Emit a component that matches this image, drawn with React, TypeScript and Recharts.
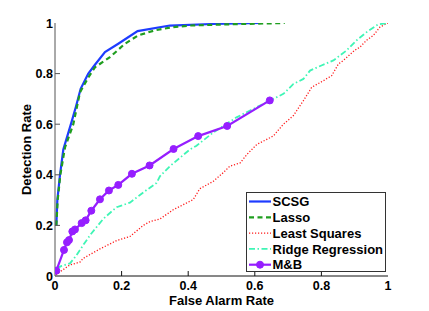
import React from 'react';
import { LineChart, Line, XAxis, YAxis, Legend } from 'recharts';

const FONT = '"Liberation Sans", Arial, Helvetica, sans-serif';

const axisTicks = [0, 0.2, 0.4, 0.6, 0.8, 1];

const scsgFar = [0.004, 0.007, 0.015, 0.025, 0.05, 0.063, 0.077, 0.1, 0.12, 0.15, 0.19, 0.248, 0.345, 0.475, 0.62];
const scsgDet = [0.2, 0.3, 0.4, 0.5, 0.61, 0.67, 0.74, 0.8, 0.835, 0.885, 0.918, 0.968, 0.99, 0.996, 1.0];

const lassoFar = [0.004, 0.008, 0.016, 0.03, 0.055, 0.075, 0.1, 0.12, 0.165, 0.21, 0.25, 0.3, 0.345, 0.405, 0.525, 0.69];
const lassoDet = [0.2, 0.3, 0.4, 0.508, 0.6, 0.726, 0.785, 0.825, 0.865, 0.918, 0.951, 0.971, 0.982, 0.99, 0.995, 1.0];

const lsFar = [0.003, 0.045, 0.075, 0.085, 0.135, 0.185, 0.225, 0.265, 0.285, 0.315, 0.355, 0.375, 0.415, 0.435, 0.475, 0.505, 0.525, 0.556, 0.576, 0.606, 0.636, 0.656, 0.686, 0.716, 0.746, 0.771, 0.806, 0.831, 0.851, 0.866, 0.9, 0.916, 0.936, 0.956, 0.976, 1];
const lsDet = [0.005, 0.044, 0.055, 0.07, 0.107, 0.14, 0.156, 0.2, 0.215, 0.225, 0.262, 0.275, 0.302, 0.345, 0.374, 0.408, 0.434, 0.447, 0.48, 0.52, 0.54, 0.554, 0.6, 0.634, 0.693, 0.746, 0.772, 0.792, 0.838, 0.852, 0.892, 0.905, 0.932, 0.951, 0.984, 1];

const ridgeFar = [0.005, 0.02, 0.045, 0.065, 0.085, 0.108, 0.145, 0.185, 0.225, 0.255, 0.27, 0.305, 0.315, 0.345, 0.405, 0.425, 0.475, 0.545, 0.625, 0.645, 0.686, 0.716, 0.746, 0.766, 0.8, 0.836, 0.876, 0.906, 0.936, 0.971, 1];
const ridgeDet = [0.03, 0.04, 0.05, 0.083, 0.123, 0.166, 0.226, 0.272, 0.29, 0.32, 0.335, 0.368, 0.394, 0.434, 0.5, 0.515, 0.567, 0.627, 0.68, 0.693, 0.72, 0.759, 0.779, 0.812, 0.832, 0.852, 0.892, 0.932, 0.964, 0.995, 1];

const mbFar = [0.004, 0.027, 0.036, 0.042, 0.052, 0.06, 0.08, 0.092, 0.109, 0.135, 0.162, 0.19, 0.231, 0.284, 0.356, 0.43, 0.517, 0.645];
const mbDet = [0.021, 0.103, 0.133, 0.142, 0.176, 0.184, 0.209, 0.22, 0.258, 0.303, 0.338, 0.36, 0.404, 0.437, 0.502, 0.553, 0.593, 0.694];

const toPoints = (far: number[], det: number[]) => far.map((x, i) => ({ far: x, det: det[i] }));

type Series = {
  name: string;
  color: string;
  width: number;
  dash?: string;
  marker: boolean;
  data: { far: number; det: number }[];
};

const series: Series[] = [
  { name: 'SCSG', color: '#1e3cff', width: 2.2, marker: false, data: toPoints(scsgFar, scsgDet) },
  { name: 'Lasso', color: '#1f9e1f', width: 2.2, dash: '5 3.5', marker: false, data: toPoints(lassoFar, lassoDet) },
  { name: 'Least Squares', color: '#ff1a1a', width: 1.3, dash: '1.2 1.8', marker: false, data: toPoints(lsFar, lsDet) },
  { name: 'Ridge Regression', color: '#3ff5b5', width: 1.8, dash: '6 2.5 1.5 2.5', marker: false, data: toPoints(ridgeFar, ridgeDet) },
  { name: 'M&B', color: '#961eff', width: 2.2, marker: true, data: toPoints(mbFar, mbDet) },
];

const TICK_LEN = 5;
const inner = (v: number) => v > 0 && v < 1;

const textStyle = {
  fontFamily: FONT,
  fontWeight: 'bold' as const,
  fill: '#000',
};

const BottomTick = (p: any) => {
  const { x, y, payload } = p;
  return (
    <g>
      {inner(payload.value) && <line x1={x} x2={x} y1={y} y2={y - TICK_LEN} stroke="#111" strokeWidth={1} />}
      <text x={x} y={y + 14} textAnchor="middle" fontSize={12.5} {...textStyle}>
        {String(payload.value)}
      </text>
    </g>
  );
};

const LeftTick = (p: any) => {
  const { x, y, payload } = p;
  return (
    <g>
      {inner(payload.value) && <line x1={x} x2={x + TICK_LEN} y1={y} y2={y} stroke="#555" strokeWidth={1} />}
      <text x={x - 2} y={y + 4.5} textAnchor="end" fontSize={12.5} {...textStyle}>
        {String(payload.value)}
      </text>
    </g>
  );
};

const TopTick = (p: any) => {
  const { x, y, payload } = p;
  return inner(payload.value) ? (
    <line x1={x} x2={x} y1={y} y2={y + TICK_LEN} stroke="#111" strokeWidth={1} />
  ) : (
    <g />
  );
};

const RightTick = (p: any) => {
  const { x, y, payload } = p;
  return inner(payload.value) ? (
    <line x1={x} x2={x - TICK_LEN} y1={y} y2={y} stroke="#555" strokeWidth={1} />
  ) : (
    <g />
  );
};

const XTitle = (p: any) => {
  const vb = p.viewBox || { x: 55, y: 276, width: 333, height: 35 };
  return (
    <text x={vb.x + vb.width / 2} y={vb.y + 28.5} textAnchor="middle" fontSize={13} {...textStyle}>
      False Alarm Rate
    </text>
  );
};

const YTitle = (p: any) => {
  const vb = p.viewBox || { x: 0, y: 23, width: 55, height: 253 };
  const cx = vb.x + 30.5;
  const cy = vb.y + vb.height / 2;
  return (
    <text x={cx} y={cy} transform={`rotate(-90 ${cx} ${cy})`} textAnchor="middle" fontSize={13} {...textStyle}>
      Detection Rate
    </text>
  );
};

const LEG_W = 140;
const LEG_H = 80;

const LegendBox = () => (
  <svg width={LEG_W} height={LEG_H} style={{ display: 'block' }}>
    <rect x={0.5} y={0.5} width={LEG_W - 1} height={LEG_H - 1} fill="#fff" stroke="#333" strokeWidth={1} />
    {series.map((s, i) => {
      const cy = 9.5 + i * 15.8;
      return (
        <g key={s.name}>
          <line x1={3} x2={25} y1={cy} y2={cy} stroke={s.color} strokeWidth={s.width} strokeDasharray={s.dash} />
          {s.marker && <circle cx={14} cy={cy} r={3.5} fill={s.color} stroke={s.color} />}
          <text x={26.5} y={cy + 4.7} fontSize={13} {...textStyle}>
            {s.name}
          </text>
        </g>
      );
    })}
  </svg>
);

export default function App() {
  return (
    <div style={{ position: 'absolute', left: 0, top: 0, background: '#fff' }}>
      <LineChart width={429} height={311} margin={{ top: 23, right: 41, bottom: 0, left: 0 }}>
        <XAxis
          xAxisId="bottom"
          dataKey="far"
          type="number"
          domain={[0, 1]}
          ticks={axisTicks}
          height={35}
          tickSize={0}
          tickMargin={0}
          tick={BottomTick}
          axisLine={{ stroke: '#111', strokeWidth: 1 }}
          tickLine={false}
          label={XTitle}
          allowDataOverflow
        />
        <XAxis
          xAxisId="top"
          orientation="top"
          dataKey="far"
          type="number"
          domain={[0, 1]}
          ticks={axisTicks}
          height={0}
          tickSize={0}
          tickMargin={0}
          tick={TopTick}
          axisLine={{ stroke: '#111', strokeWidth: 1 }}
          tickLine={false}
          allowDataOverflow
        />
        <YAxis
          yAxisId="left"
          type="number"
          domain={[0, 1]}
          ticks={axisTicks}
          width={55}
          tickSize={0}
          tickMargin={0}
          tick={LeftTick}
          axisLine={{ stroke: '#555', strokeWidth: 1 }}
          tickLine={false}
          label={YTitle}
          allowDataOverflow
        />
        <YAxis
          yAxisId="right"
          orientation="right"
          type="number"
          domain={[0, 1]}
          ticks={axisTicks}
          width={0}
          tickSize={0}
          tickMargin={0}
          tick={RightTick}
          axisLine={{ stroke: '#555', strokeWidth: 1 }}
          tickLine={false}
          allowDataOverflow
        />
        {series.map((s) => (
          <Line
            key={s.name}
            xAxisId="bottom"
            yAxisId="left"
            data={s.data}
            dataKey="det"
            name={s.name}
            type="linear"
            stroke={s.color}
            strokeWidth={s.width}
            strokeDasharray={s.dash}
            dot={s.marker ? { r: 3.5, fill: s.color, stroke: s.color, strokeWidth: 1 } : false}
            activeDot={false}
            isAnimationActive={false}
          />
        ))}
        <Legend
          layout="vertical"
          align="center"
          verticalAlign="middle"
          wrapperStyle={{ left: 246, top: 192, width: LEG_W, height: LEG_H, margin: 0, padding: 0 }}
          content={LegendBox}
        />
      </LineChart>
    </div>
  );
}
